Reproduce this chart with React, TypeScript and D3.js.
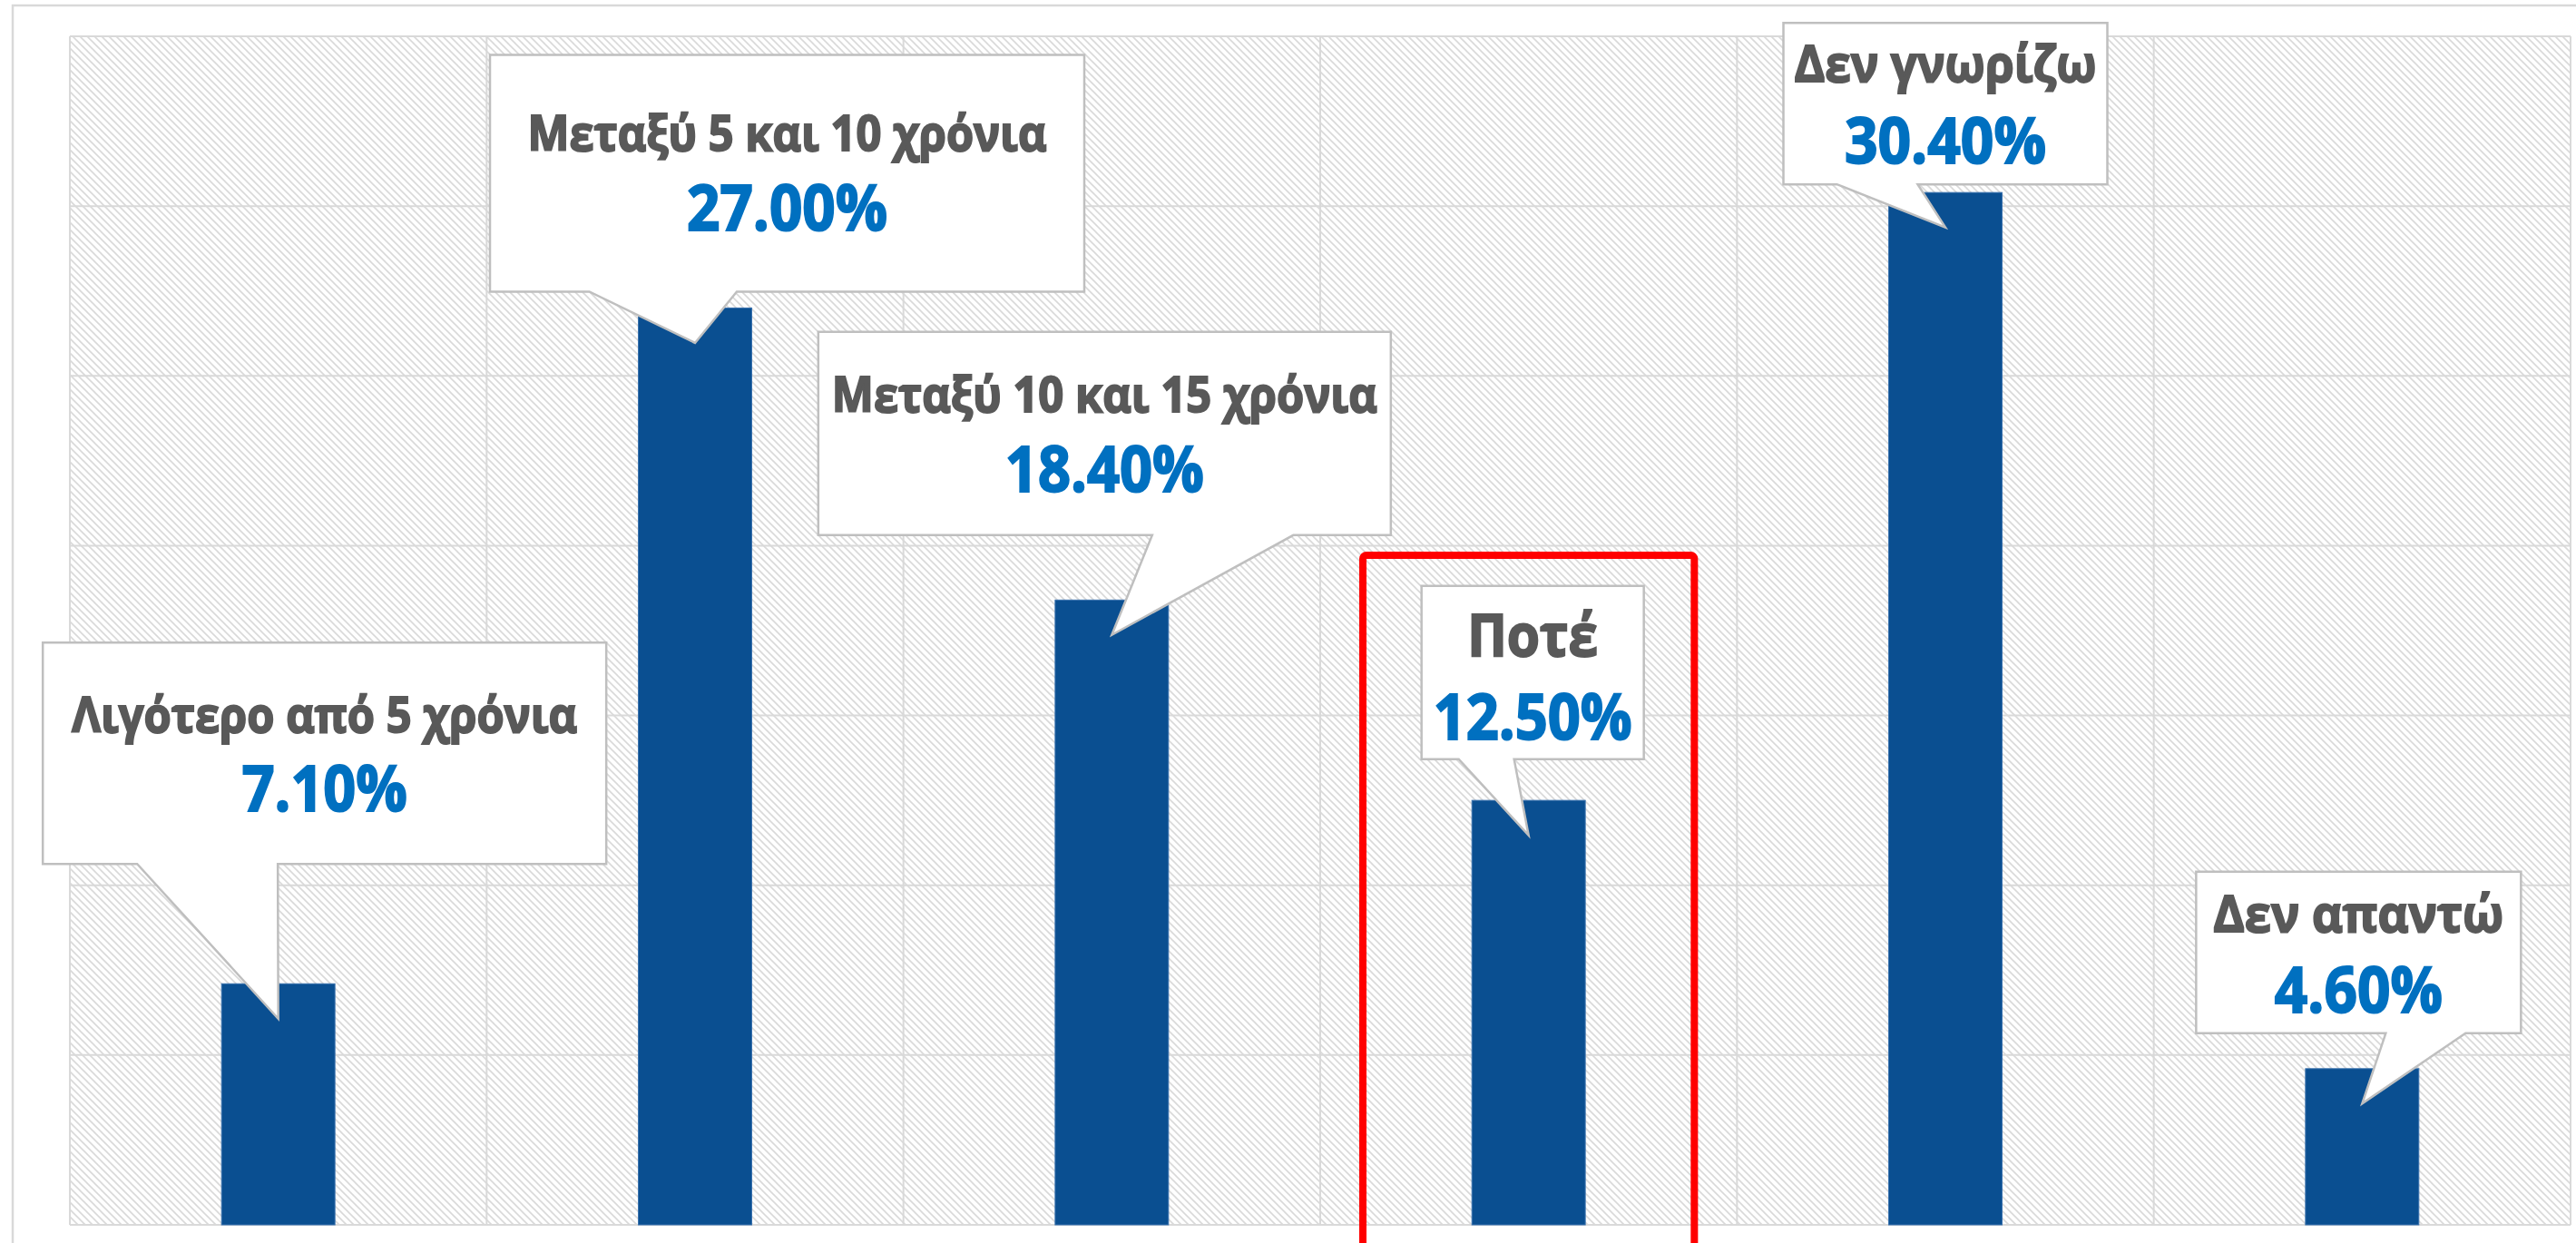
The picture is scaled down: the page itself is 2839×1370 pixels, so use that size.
import React from "react";
import * as d3 from "d3";

// categories and values
const categories = [
  "Λιγότερο από 5 χρόνια",
  "Μεταξύ 5 και 10 χρόνια",
  "Μεταξύ 10 και 15 χρόνια",
  "Ποτέ",
  "Δεν γνωρίζω",
  "Δεν απαντώ",
];
const values = [7.1, 27.0, 18.4, 12.5, 30.4, 4.6];
const yTicks = [0, 5, 10, 15, 20, 25, 30, 35];
const highlighted = "Ποτέ";

// callout boxes, placed relative to the pointer tip (px)
const callouts = [
  { dx: -259.5, dy: -414.5, w: 621, h: 244, b0: 104, b1: 259, ls: 54, lb: 99, vb: 186, lw: 557, vw: 182 },
  { dx: -226, dy: -317.5, w: 655, h: 261, b0: 109.5, b1: 272, ls: 54, lb: 106, vb: 194, lw: 572, vw: 221 },
  { dx: -323.5, dy: -334, w: 631, h: 224, b0: 368, b1: 523.5, ls: 54, lb: 88, vb: 176, lw: 601, vw: 219 },
  { dx: -118, dy: -275, w: 245, h: 191, b0: 41, b1: 102, ls: 65, lb: 77, vb: 169, lw: 144, vw: 219 },
  { dx: -178.5, dy: -225.5, w: 357, h: 178, b0: 59, b1: 148, ls: 56, lb: 65, vb: 155, lw: 333, vw: 222 },
  { dx: -183, dy: -255.5, w: 358, h: 178, b0: 209, b1: 297, ls: 56, lb: 66, vb: 155, lw: 320, vw: 185 },
];

const W = 2839;
const H = 1370;
const plot = { left: 77, right: 2833, top: 40, bottom: 1350 };

const App = () => {
  const x = d3
    .scaleBand()
    .domain(categories)
    .range([plot.left, plot.right])
    .padding(0);
  const y = d3.scaleLinear().domain([0, 35]).range([plot.bottom, plot.top]);

  const barW = x.bandwidth() * 0.272;
  const fmt = d3.format(".2f");
  const font = "'Open Sans', 'Noto Sans', sans-serif";

  const hx = x(highlighted);

  return (
    <svg
      width={W}
      height={H}
      style={{ position: "absolute", left: 0, top: 0, background: "#fff" }}
    >
      <defs>
        <pattern
          id="hatch"
          patternUnits="userSpaceOnUse"
          width={8}
          height={8}
        >
          <rect width={8} height={8} fill="#fff" />
          <path
            d="M-2,-2 L10,10 M-2,6 L2,10 M6,-2 L10,2"
            stroke="#d9d9d9"
            strokeWidth={1.6}
          />
        </pattern>
      </defs>

      {/* outer chart frame */}
      <rect
        x={14}
        y={6}
        width={W + 20}
        height={H + 20}
        fill="#fff"
        stroke="#d9d9d9"
        strokeWidth={2.5}
      />

      {/* plot area */}
      <rect
        x={plot.left}
        y={plot.top}
        width={plot.right - plot.left}
        height={plot.bottom - plot.top}
        fill="url(#hatch)"
      />

      {/* gridlines */}
      <g stroke="#d9d9d9" strokeWidth={2}>
        {yTicks.map((t) => (
          <line key={t} x1={plot.left} x2={plot.right} y1={y(t)} y2={y(t)} />
        ))}
        {categories.map((c) => (
          <line
            key={c}
            x1={x(c)}
            x2={x(c)}
            y1={plot.top}
            y2={plot.bottom}
          />
        ))}
        <line
          x1={plot.right}
          x2={plot.right}
          y1={plot.top}
          y2={plot.bottom}
        />
      </g>

      {/* bars */}
      {categories.map((c, i) => (
        <rect
          key={c}
          x={x(c) + (x.bandwidth() - barW) / 2}
          y={y(values[i])}
          width={barW}
          height={y(0) - y(values[i])}
          fill="#0A4F91"
          stroke="#3A72AE"
          strokeWidth={1}
        />
      ))}

      {/* highlight frame */}
      <rect
        x={hx + 47}
        y={612}
        width={x.bandwidth() - 94}
        height={H}
        rx={4}
        fill="none"
        stroke="#ff0000"
        strokeWidth={8}
      />

      {/* callouts */}
      {categories.map((c, i) => {
        const o = callouts[i];
        const tx = x(c) + x.bandwidth() / 2;
        const ty = y(values[i]) + 38.5;
        const x0 = tx + o.dx;
        const y0 = ty + o.dy;
        const x1 = x0 + o.w;
        const y1 = y0 + o.h;
        const d = `M${x0},${y0} H${x1} V${y1} H${x0 + o.b1} L${tx},${ty} L${x0 + o.b0},${y1} H${x0} Z`;
        const cx = x0 + o.w / 2;
        return (
          <g key={c}>
            <path d={d} fill="#fff" stroke="#bfbfbf" strokeWidth={2.5} />
            <text
              x={cx}
              y={y0 + o.lb}
              textAnchor="middle"
              fontFamily={font}
              fontWeight={700}
              fontSize={o.ls}
              fill="#595959"
              stroke="#595959"
              strokeWidth={2}
              textLength={o.lw}
              lengthAdjust="spacingAndGlyphs"
            >
              {c}
            </text>
            <text
              x={cx}
              y={y0 + o.vb}
              textAnchor="middle"
              fontFamily={font}
              fontWeight={700}
              fontSize={69}
              fill="#0070C0"
              stroke="#0070C0"
              strokeWidth={2}
              textLength={o.vw}
              lengthAdjust="spacingAndGlyphs"
            >
              {fmt(values[i]) + "%"}
            </text>
          </g>
        );
      })}
    </svg>
  );
};

export default App;
